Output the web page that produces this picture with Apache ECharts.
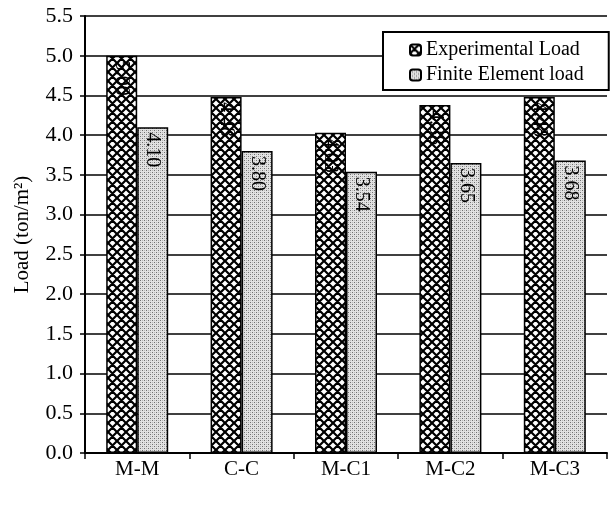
<!DOCTYPE html>
<html>
<head>
<meta charset="utf-8">
<script src="https://cdn.jsdelivr.net/npm/echarts@6/dist/echarts.min.js"></script>
<style>
html,body{margin:0;padding:0;background:#fff;}
#chart{width:613px;height:508px;}
</style>
</head>
<body>
<div id="chart"></div>
<script>
var categories = ['M-M', 'C-C', 'M-C1', 'M-C2', 'M-C3'];
var experimentalLoad = [5.00, 4.48, 4.03, 4.38, 4.48];
var finiteElementLoad = [4.10, 3.80, 3.54, 3.65, 3.68];
var yTicks = ['0.0','0.5','1.0','1.5','2.0','2.5','3.0','3.5','4.0','4.5','5.0','5.5'];
var seriesNames = ['Experimental Load', 'Finite Element load'];

function crossPattern() {
  var s = 9;
  var c = document.createElement('canvas');
  c.width = s; c.height = s;
  var g = c.getContext('2d');
  g.fillStyle = '#fff';
  g.fillRect(0, 0, s, s);
  g.strokeStyle = '#000';
  g.lineWidth = 2.2;
  g.beginPath();
  [-s, 0, s].forEach(function (k) {
    g.moveTo(k, 0); g.lineTo(k + s, s);
    g.moveTo(k + s, 0); g.lineTo(k, s);
  });
  g.stroke();
  return c;
}
function dotPattern() {
  var c = document.createElement('canvas');
  c.width = 4; c.height = 4;
  var g = c.getContext('2d');
  g.fillStyle = '#e2e2e2';
  g.fillRect(0, 0, 4, 4);
  g.fillStyle = '#707070';
  g.fillRect(0, 0, 1, 1);
  g.fillRect(2, 2, 1, 1);
  g.fillStyle = '#b8b8b8';
  g.fillRect(2, 0, 1, 1);
  g.fillRect(0, 2, 1, 1);
  return c;
}

var font = 'Liberation Serif';
var chart = echarts.init(document.getElementById('chart'), null, {renderer: 'canvas'});

var labelCfg = {
  show: true,
  position: 'insideTop',
  distance: 5,
  rotate: -90,
  align: 'left',
  verticalAlign: 'middle',
  fontFamily: font,
  fontSize: 20,
  color: '#000',
  formatter: function (p) { return p.value.toFixed(2); }
};

chart.setOption({
  animation: false,
  backgroundColor: '#fff',
  grid: {left: 85, right: 6, top: 16, bottom: 55, outerBoundsMode: 'none', containLabel: false},
  legend: {
    orient: 'vertical',
    left: 383,
    top: 32,
    backgroundColor: '#fff',
    borderColor: '#000',
    borderWidth: 2,
    padding: [8, 25, 5, 26],
    itemWidth: 11,
    itemHeight: 11,
    itemGap: 5,
    textStyle: {fontFamily: font, fontSize: 20, color: '#000'},
    data: seriesNames
  },
  xAxis: {
    type: 'category',
    data: categories,
    axisLine: {lineStyle: {color: '#000', width: 2}},
    axisTick: {show: true, length: 6, lineStyle: {color: '#000', width: 1.5}},
    axisLabel: {fontFamily: font, fontSize: 21, color: '#000', margin: 6}
  },
  yAxis: {
    type: 'value',
    min: 0,
    max: 5.5,
    interval: 0.5,
    name: 'Load (ton/m²)',
    nameLocation: 'middle',
    nameGap: 52,
    nameTextStyle: {fontFamily: font, fontSize: 21, color: '#000'},
    axisLine: {show: true, lineStyle: {color: '#000', width: 2}},
    axisTick: {show: true, length: 5, lineStyle: {color: '#000', width: 1.5}},
    axisLabel: {
      fontFamily: font, fontSize: 22, color: '#000', margin: 12,
      formatter: function (v) { return yTicks[Math.round(v / 0.5)]; }
    },
    splitLine: {show: true, lineStyle: {color: '#000', width: 1.5}}
  },
  series: [
    {
      name: seriesNames[0],
      type: 'bar',
      data: experimentalLoad,
      barWidth: 31,
      barGap: '0%',
      itemStyle: {color: {image: crossPattern(), repeat: 'repeat'}, borderColor: '#000', borderWidth: 1.5},
      label: labelCfg
    },
    {
      name: seriesNames[1],
      type: 'bar',
      data: finiteElementLoad,
      barWidth: 31,
      barGap: '0%',
      itemStyle: {color: {image: dotPattern(), repeat: 'repeat'}, borderColor: '#000', borderWidth: 1.5},
      label: labelCfg
    }
  ]
});
</script>
</body>
</html>
